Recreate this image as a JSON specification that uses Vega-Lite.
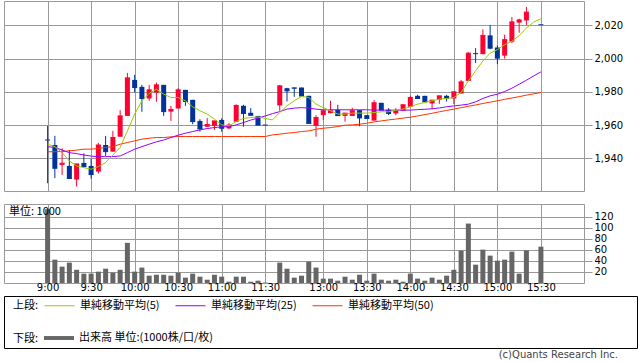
{
"$schema": "https://vega.github.io/schema/vega-lite/v6.json",
"padding": {"left": 3, "top": 0, "right": 0, "bottom": 0},
"background": "white",
"config": {
  "view": {"stroke": "#999999", "strokeWidth": 1},
  "axis": {"gridColor": "#999999", "gridWidth": 1, "gridOpacity": 1, "tickColor": "#999999", "domain": false, "labelColor": "#000000", "labelFont": "DejaVu Sans", "labelFontSize": 10, "title": null}
},
"datasets": {
  "bars": [
    {"i":0,"o":1951,"h":1959.5,"l":1925,"c":1951,"v":134,"m5":1948.5,"m25":1947,"m50":1943.9},
    {"i":1,"o":1948,"h":1953.5,"l":1928,"c":1934,"v":42.4,"m5":1947,"m25":1946.5,"m50":1944},
    {"i":2,"o":1936,"h":1946,"l":1930,"c":1937,"v":29.7,"m5":1943.4,"m25":1945,"m50":1944},
    {"i":3,"o":1935.4,"h":1945,"l":1927.8,"c":1927.8,"v":37,"m5":1938.4,"m25":1943.4,"m50":1944.5},
    {"i":4,"o":1927.2,"h":1936.6,"l":1923,"c":1936.6,"v":24,"m5":1935.4,"m25":1942.8,"m50":1944.9},
    {"i":5,"o":1937.2,"h":1943,"l":1934.4,"c":1935,"v":17,"m5":1934.4,"m25":1942,"m50":1945.5},
    {"i":6,"o":1935.4,"h":1939.6,"l":1927.8,"c":1930.2,"v":17,"m5":1933.4,"m25":1941.3,"m50":1945.5},
    {"i":7,"o":1932,"h":1949.3,"l":1930.8,"c":1948,"v":20.6,"m5":1935,"m25":1941,"m50":1945.9},
    {"i":8,"o":1948,"h":1953.5,"l":1941.4,"c":1944,"v":26,"m5":1937.4,"m25":1941,"m50":1946.5},
    {"i":9,"o":1944,"h":1956.5,"l":1944,"c":1952.5,"v":18.8,"m5":1942,"m25":1941,"m50":1947},
    {"i":10,"o":1953,"h":1969,"l":1952.9,"c":1965.5,"v":24,"m5":1946.5,"m25":1941.4,"m50":1948.5},
    {"i":11,"o":1965.5,"h":1991.4,"l":1965.5,"c":1988.4,"v":73,"m5":1956.5,"m25":1943.4,"m50":1949.5},
    {"i":12,"o":1987.2,"h":1990.2,"l":1979.6,"c":1982.6,"v":20.6,"m5":1966.6,"m25":1945.5,"m50":1950.5},
    {"i":13,"o":1983,"h":1984.2,"l":1968,"c":1976,"v":28,"m5":1974.6,"m25":1947,"m50":1951.5},
    {"i":14,"o":1976,"h":1984.2,"l":1974.6,"c":1981.2,"v":13.3,"m5":1979,"m25":1948.5,"m50":1952.1},
    {"i":15,"o":1979.6,"h":1985.6,"l":1974,"c":1984.2,"v":15,"m5":1981.6,"m25":1949.9,"m50":1952.5},
    {"i":16,"o":1984.2,"h":1984.2,"l":1965.5,"c":1968.1,"v":15,"m5":1978.6,"m25":1951,"m50":1952.5},
    {"i":17,"o":1968.1,"h":1971.6,"l":1962.5,"c":1969.4,"v":13.3,"m5":1976.6,"m25":1952.5,"m50":1952.9},
    {"i":18,"o":1970,"h":1982.4,"l":1970,"c":1981.2,"v":18.8,"m5":1976.6,"m25":1953.9,"m50":1953.1},
    {"i":19,"o":1981.2,"h":1981.2,"l":1971.6,"c":1974.2,"v":9.7,"m5":1974.6,"m25":1955.1,"m50":1953.1},
    {"i":20,"o":1975.2,"h":1975.2,"l":1960.5,"c":1962.1,"v":17,"m5":1971,"m25":1956.1,"m50":1953.1},
    {"i":21,"o":1962.5,"h":1963.5,"l":1956,"c":1957.7,"v":11.5,"m5":1968.6,"m25":1957.1,"m50":1953.1},
    {"i":22,"o":1959,"h":1964.2,"l":1958.9,"c":1960.3,"v":6,"m5":1966.6,"m25":1957.9,"m50":1953.1},
    {"i":23,"o":1959.5,"h":1962.5,"l":1957,"c":1962.5,"v":15,"m5":1963.6,"m25":1958.5,"m50":1953.1},
    {"i":24,"o":1963.1,"h":1964.1,"l":1956,"c":1958.1,"v":11.5,"m5":1960.1,"m25":1958.9,"m50":1953.1},
    {"i":25,"o":1958,"h":1961.3,"l":1957.5,"c":1960,"v":2.4,"m5":1959.5,"m25":1959.1,"m50":1953.1},
    {"i":26,"o":1962,"h":1972.5,"l":1962,"c":1971.8,"v":11.5,"m5":1962.1,"m25":1960.1,"m50":1953.1},
    {"i":27,"o":1971.6,"h":1972.2,"l":1959,"c":1967,"v":11.5,"m5":1964,"m25":1961.5,"m50":1953.1},
    {"i":28,"o":1967.4,"h":1970.2,"l":1965.7,"c":1965.9,"v":2.4,"m5":1964.5,"m25":1963,"m50":1953.1},
    {"i":29,"o":1965.5,"h":1965.5,"l":1959.9,"c":1960,"v":4.2,"m5":1964.9,"m25":1964.2,"m50":1953.1},
    {"i":30,"o":1960,"h":1960,"l":1960,"c":1960,"v":0.8,"m5":1964,"m25":1965.5,"m50":1953.1},
    {"i":31,"o":null,"h":null,"l":null,"c":null,"v":null,"m5":1963.1,"m25":1966.9,"m50":1954.1},
    {"i":32,"o":1971.8,"h":1984.2,"l":1968.6,"c":1983.6,"v":37,"m5":1967.5,"m25":1968.1,"m50":1954.5},
    {"i":33,"o":1982.2,"h":1982.4,"l":1974.2,"c":1980.6,"v":26,"m5":1971.6,"m25":1969.6,"m50":1955.1},
    {"i":34,"o":1982.6,"h":1982.6,"l":1977,"c":1982.2,"v":9.7,"m5":1974.6,"m25":1970.2,"m50":1955.5},
    {"i":35,"o":1982.6,"h":1982.6,"l":1977.5,"c":1977.5,"v":13.3,"m5":1977.2,"m25":1970.5,"m50":1956.1},
    {"i":36,"o":1977.6,"h":1977.6,"l":1961,"c":1961,"v":38.8,"m5":1976.6,"m25":1970.2,"m50":1956.5},
    {"i":37,"o":1959.5,"h":1966,"l":1953,"c":1964.5,"v":28,"m5":1972.6,"m25":1969.6,"m50":1957.5},
    {"i":38,"o":1966,"h":1968.6,"l":1963,"c":1968.6,"v":7.9,"m5":1970.5,"m25":1969.2,"m50":1958.1},
    {"i":39,"o":1967.2,"h":1974.6,"l":1967,"c":1968.6,"v":7.9,"m5":1968.6,"m25":1969.2,"m50":1958.5},
    {"i":40,"o":1969.2,"h":1972.2,"l":1965.7,"c":1965.7,"v":4.2,"m5":1966.6,"m25":1969.2,"m50":1959.1},
    {"i":41,"o":1965.5,"h":1967.2,"l":1962.1,"c":1967.2,"v":11.5,"m5":1966.6,"m25":1969.2,"m50":1959.9},
    {"i":42,"o":1965.5,"h":1970.4,"l":1965.5,"c":1968.6,"v":6,"m5":1967.2,"m25":1969.2,"m50":1960.1},
    {"i":43,"o":1969,"h":1969,"l":1959.3,"c":1964.3,"v":15,"m5":1967.2,"m25":1969.2,"m50":1960.5},
    {"i":44,"o":1966,"h":1966,"l":1963.9,"c":1964,"v":4.2,"m5":1967.2,"m25":1969.2,"m50":1961.1},
    {"i":45,"o":1962.7,"h":1975,"l":1962.7,"c":1973.4,"v":17,"m5":1967.5,"m25":1969,"m50":1961.9},
    {"i":46,"o":1973.4,"h":1973.4,"l":1969,"c":1969,"v":6,"m5":1968,"m25":1969,"m50":1962.5},
    {"i":47,"o":1969.2,"h":1970.2,"l":1966,"c":1967,"v":4.2,"m5":1968,"m25":1969,"m50":1963.1},
    {"i":48,"o":1967,"h":1970.2,"l":1966,"c":1968.6,"v":6,"m5":1969,"m25":1969,"m50":1963.6},
    {"i":49,"o":1968.6,"h":1972.6,"l":1968.6,"c":1972.2,"v":2.4,"m5":1969.6,"m25":1969,"m50":1964.2},
    {"i":50,"o":1971,"h":1977.6,"l":1971,"c":1976.6,"v":17,"m5":1971,"m25":1969,"m50":1964.7},
    {"i":51,"o":1977.6,"h":1978.2,"l":1976,"c":1976,"v":7.9,"m5":1972.6,"m25":1969.3,"m50":1965.5},
    {"i":52,"o":1977.6,"h":1977.6,"l":1974,"c":1974,"v":4.2,"m5":1973.6,"m25":1969.5,"m50":1966.3},
    {"i":53,"o":1973,"h":1975,"l":1969.6,"c":1975,"v":9.7,"m5":1974.6,"m25":1969.8,"m50":1967.1},
    {"i":54,"o":1975.2,"h":1977.6,"l":1972.8,"c":1977.6,"v":6,"m5":1975.6,"m25":1970.3,"m50":1968},
    {"i":55,"o":1977.6,"h":1978.2,"l":1974.2,"c":1976,"v":13.3,"m5":1976,"m25":1971,"m50":1968.8},
    {"i":56,"o":1976,"h":1980,"l":1972.6,"c":1980,"v":24,"m5":1976.6,"m25":1971.5,"m50":1969.6},
    {"i":57,"o":1979,"h":1987.2,"l":1979,"c":1986,"v":58.8,"m5":1979.6,"m25":1972,"m50":1970.5},
    {"i":58,"o":1986.6,"h":2003.9,"l":1986.6,"c":2003.3,"v":107.9,"m5":1986.6,"m25":1972.6,"m50":1971.3},
    {"i":59,"o":2003,"h":2006.3,"l":1997.3,"c":2003,"v":33.3,"m5":1992.6,"m25":1974,"m50":1972.1},
    {"i":60,"o":2002.7,"h":2017.6,"l":2002.7,"c":2014,"v":60.6,"m5":1998.6,"m25":1976,"m50":1973},
    {"i":61,"o":2014,"h":2020.3,"l":2005.7,"c":2006.3,"v":49.7,"m5":2003.3,"m25":1977.6,"m50":1973.8},
    {"i":62,"o":2006.7,"h":2008,"l":1996.7,"c":2000.3,"v":40.6,"m5":2005.4,"m25":1978.6,"m50":1974.6},
    {"i":63,"o":2001.8,"h":2014.4,"l":2000,"c":2011.4,"v":42.4,"m5":2008.4,"m25":1980.2,"m50":1975.5},
    {"i":64,"o":2010.2,"h":2025.1,"l":2009.3,"c":2022.1,"v":57,"m5":2010.4,"m25":1982.2,"m50":1976.3},
    {"i":65,"o":2021.7,"h":2024,"l":2015.6,"c":2023.3,"v":17,"m5":2013.8,"m25":1984.6,"m50":1977.1},
    {"i":66,"o":2023,"h":2031.1,"l":2020.3,"c":2028,"v":59.4,"m5":2018.4,"m25":1987,"m50":1978},
    {"i":67,"o":null,"h":null,"l":null,"c":null,"v":null,"m5":2022,"m25":1989.6,"m50":1978.8},
    {"i":68,"o":2020.4,"h":2020.4,"l":2020.4,"c":2020.4,"v":66,"m5":2024,"m25":1992,"m50":1979.6}
  ]
},
"spacing": 2,
"vconcat": [
  {
    "spacing": 11,
    "vconcat": [
      {
        "width": 580, "height": 190,
        "data": {"name": "bars"},
        "encoding": {
          "x": {"field": "i", "type": "quantitative", "scale": {"domain": [-5.32, 73.25], "nice": false, "zero": false},
                "axis": {"values": [0,6,12,18,24,30,38,44,50,56,62,68], "labels": false, "ticks": false, "grid": true, "title": null}}
        },
        "layer": [
          {"mark": {"type": "rule", "strokeWidth": 1},
           "encoding": {
             "y": {"field": "l", "type": "quantitative", "scale": {"domain": [1920.3, 2034.7], "nice": false, "zero": false},
                   "axis": {"orient": "right", "values": [1940,1960,1980,2000,2020], "format": ",.0f", "tickSize": 8, "labelPadding": 2, "grid": true, "title": null}},
             "y2": {"field": "h"},
             "color": {"condition": {"test": "datum.c > datum.o", "value": "#ff0033"}, "value": "#003399"}
           }},
          {"mark": {"type": "bar", "width": 5},
           "encoding": {
             "y": {"field": "o", "type": "quantitative"},
             "y2": {"field": "c"},
             "color": {"condition": {"test": "datum.c > datum.o", "value": "#ff0033"}, "value": "#003399"}
           }},
          {"mark": {"type": "point", "shape": "stroke", "size": 25, "strokeWidth": 1, "filled": false, "opacity": 1},
           "encoding": {
             "y": {"field": "c", "type": "quantitative"},
             "color": {"condition": {"test": "datum.c > datum.o", "value": "#ff0033"}, "value": "#003399"}
           }},
          {"mark": {"type": "line", "strokeWidth": 1},
           "encoding": {
             "y": {"field": "m50", "type": "quantitative"},
             "stroke": {"datum": "単純移動平均(50)",
               "scale": {"domain": ["単純移動平均(5)", "単純移動平均(25)", "単純移動平均(50)"], "range": ["#99cc00", "#9900ff", "#ff3300"]},
               "legend": {"orient": "none", "legendX": 9, "legendY": 289, "direction": "horizontal", "title": "上段:", "titleOrient": "left",
                 "titleAnchor": "middle", "titleBaseline": "top",
                 "titleFont": "Noto Sans CJK JP", "titleFontSize": 11, "titleFontWeight": "normal", "titleColor": "#000000", "titlePadding": 5,
                 "labelFont": "Noto Sans CJK JP", "labelFontSize": 11, "labelColor": "#000000", "labelOffset": 5, "labelLimit": 200,
                 "symbolType": "stroke", "symbolSize": 900, "symbolStrokeWidth": 1, "columnPadding": 13, "padding": 0}}
           }},
          {"mark": {"type": "line", "strokeWidth": 1},
           "encoding": {
             "y": {"field": "m25", "type": "quantitative"},
             "stroke": {"datum": "単純移動平均(25)"}
           }},
          {"mark": {"type": "line", "strokeWidth": 1},
           "encoding": {
             "y": {"field": "m5", "type": "quantitative"},
             "stroke": {"datum": "単純移動平均(5)"}
           }}
        ]
      },
      {
        "width": 580, "height": 79,
        "title": {"text": "単位: 1000", "anchor": "start", "orient": "top", "offset": -13, "dx": 5, "font": "Noto Sans CJK JP", "fontSize": 11, "fontWeight": "normal", "color": "#000000"},
        "data": {"name": "bars"},
        "mark": {"type": "bar", "width": 5},
        "encoding": {
          "x": {"field": "i", "type": "quantitative", "scale": {"domain": [-5.32, 73.25], "nice": false, "zero": false},
                "axis": {"values": [0,6,12,18,24,30,38,44,50,56,62,68], "ticks": false, "grid": true, "labelPadding": -1, "title": null,
                         "labelExpr": "['9:00','9:30','10:00','10:30','11:00','11:30','13:00','13:30','14:00','14:30','15:00','15:30'][indexof([0,6,12,18,24,30,38,44,50,56,62,68], datum.value)]"}},
          "y": {"field": "v", "type": "quantitative", "scale": {"domain": [0, 143.5], "nice": false},
                "axis": {"orient": "right", "values": [20,40,60,80,100,120], "tickSize": 8, "labelPadding": 2, "grid": true, "title": null}},
          "fill": {"datum": "出来高 単位:(1000株/口/枚)", "scale": {"range": ["#666666"]},
            "legend": {"orient": "none", "legendX": 9, "legendY": 322, "direction": "horizontal", "title": "下段:", "titleOrient": "left",
              "titleAnchor": "middle", "titleBaseline": "top",
              "titleFont": "Noto Sans CJK JP", "titleFontSize": 11, "titleFontWeight": "normal", "titleColor": "#000000", "titlePadding": 5,
              "labelFont": "Noto Sans CJK JP", "labelFontSize": 11, "labelColor": "#000000", "labelOffset": 5, "labelLimit": 300,
              "symbolType": "M-1,-0.13H1V0.13H-1Z", "symbolSize": 900, "symbolStrokeWidth": 0, "padding": 0}}
        }
      }
    ]
  },
  {
    "width": 633, "height": 52,
    "view": {"stroke": "#000000", "strokeWidth": 1},
    "title": {"text": "(c)Quants Research Inc.", "orient": "bottom", "anchor": "end", "dx": -19, "offset": 2, "font": "DejaVu Sans", "fontSize": 10, "fontWeight": "normal", "color": "#444444"},
    "data": {"values": [{}]},
    "mark": {"type": "rule", "opacity": 0},
    "encoding": {}
  }
]
}
